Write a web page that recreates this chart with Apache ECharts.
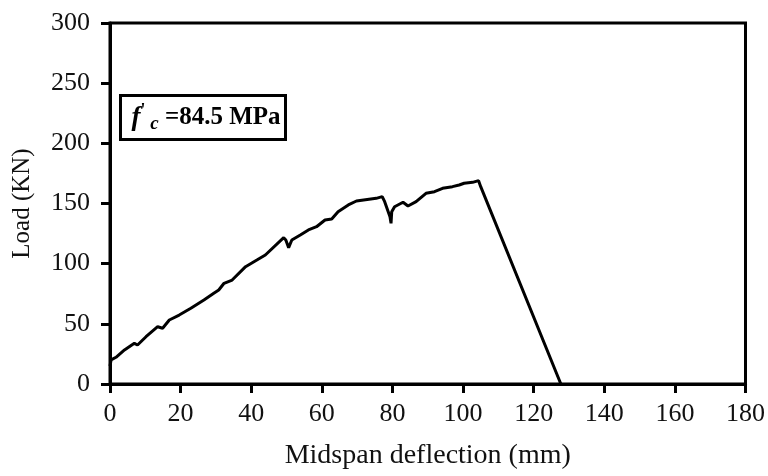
<!DOCTYPE html>
<html>
<head>
<meta charset="utf-8">
<script src="https://cdn.jsdelivr.net/npm/echarts@6/dist/echarts.min.js"></script>
<style>
html,body{margin:0;padding:0;background:#fff;}
#chart{width:768px;height:476px;}
</style>
</head>
<body>
<div id="chart"></div>
<script>
// Midspan deflection (mm)
var deflection = [0, 0.3, 1.7, 4.1, 6.9, 7.8, 10.2, 13.5, 14.9, 16.8, 19.6, 22.9, 26.6, 29.4, 30.8, 32.3, 34.6,
  38.4, 41.6, 44.0, 49.2, 49.8, 50.6, 51.5, 53.9, 56.2, 58.5, 60.9, 62.8, 64.6, 67.5, 69.8,
  75.4, 77.1, 77.8, 79.3, 79.6, 79.8, 80.6, 83.0, 84.4, 86.7, 89.5, 91.9, 94.2, 97.0, 98.9, 100.3, 102.7, 104.4, 105.0,
  127.7];
// Load (KN)
var load = [15, 20, 22.2, 28.3, 33.8, 32.4, 39.3, 47.6, 46.3, 53.2, 57.3, 62.9, 69.8, 75.4, 78.1, 83.7, 86.4,
  97.5, 103, 107.2, 121.6, 119.7, 113.3, 119.7, 123.8, 128, 130.7, 136.3, 137.1, 143.2, 148.8, 152.1,
  154.3, 155.7, 151.5, 139, 133.5, 143.2, 147.3, 151, 147.9, 151.5, 158.5, 159.8, 162.6, 164, 165.4, 166.8, 167.6, 169, 164,
  0];
var xTicks = [0, 20, 40, 60, 80, 100, 120, 140, 160, 180];
var yTicks = [0, 50, 100, 150, 200, 250, 300];
var annotation = "84.5 MPa";

var points = deflection.map(function (d, i) { return [d, load[i]]; });
var chart = echarts.init(document.getElementById('chart'));
var serif = '"Liberation Serif", "Times New Roman", serif';
chart.setOption({
  animation: false,
  backgroundColor: '#fff',
  grid: { left: 110, right: 19, top: 23, bottom: 92, show: true, borderColor: '#000', borderWidth: 3, backgroundColor: 'transparent' },
  xAxis: {
    type: 'value', min: xTicks[0], max: xTicks[xTicks.length - 1], interval: 20,
    name: 'Midspan deflection (mm)', nameLocation: 'middle', nameGap: 58,
    nameTextStyle: { fontFamily: serif, fontSize: 28, color: '#111' },
    axisLine: { show: true, lineStyle: { color: '#000', width: 3 } },
    axisTick: { show: true, inside: false, length: 9, lineStyle: { color: '#000', width: 3 } },
    axisLabel: { fontFamily: serif, fontSize: 26, color: '#111', margin: 17 },
    splitLine: { show: false }
  },
  yAxis: {
    type: 'value', min: yTicks[0], max: yTicks[yTicks.length - 1], interval: 50,
    name: 'Load (KN)', nameLocation: 'middle', nameGap: 75,
    nameTextStyle: { fontFamily: serif, fontSize: 25, color: '#111' },
    axisLine: { show: true, lineStyle: { color: '#000', width: 3 } },
    axisTick: { show: true, inside: false, length: 9, lineStyle: { color: '#000', width: 3 } },
    axisLabel: { fontFamily: serif, fontSize: 26, color: '#111', margin: 20 },
    splitLine: { show: false }
  },
  series: [{
    type: 'line', data: points, showSymbol: false, symbol: 'none',
    lineStyle: { color: '#000', width: 3 }, clip: true
  }],
  graphic: [{
    type: 'group', left: 119, top: 94,
    children: [
      { type: 'rect', shape: { x: 0, y: 0, width: 165, height: 44 }, style: { fill: '#fff', stroke: '#000', lineWidth: 3 } },
      { type: 'text', left: 11, top: 7, style: {
          rich: {
            f: { fontFamily: serif, fontStyle: 'italic', fontWeight: 'bold', fontSize: 27, fill: '#000' },
            p: { fontFamily: serif, fontWeight: 'bold', fontSize: 18, fill: '#000', verticalAlign: 'top' },
            c: { fontFamily: serif, fontStyle: 'italic', fontWeight: 'bold', fontSize: 19, fill: '#000', padding: [12, 0, 0, 0] },
            v: { fontFamily: serif, fontWeight: 'bold', fontSize: 25, fill: '#000' }
          },
          text: '{f|f}{p|\'}{c| c}{v| =' + annotation + '}'
        } }
    ]
  }]
});
</script>
</body>
</html>
